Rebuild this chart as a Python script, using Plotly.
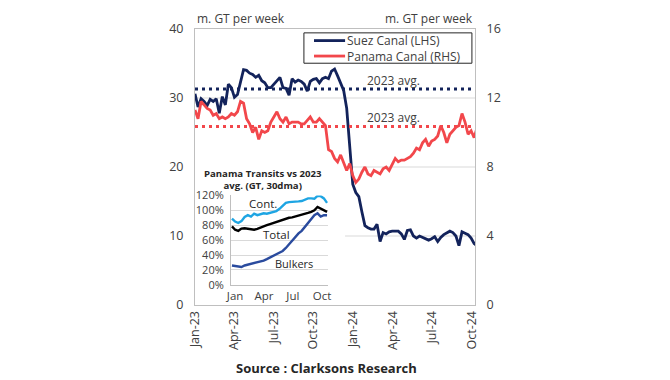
import pandas as pd
import plotly.graph_objects as go

# ---------------- data ----------------
week_start = "2023-01-01"
n_weeks = 94
weeks = pd.date_range(week_start, periods=n_weeks, freq="7D")

suez_lhs = [30.6, 28.7, 29.9, 29.5, 28.9, 29.8, 29.5, 29.9, 27.8, 30.2,
            29.0, 32.0, 31.5, 30.1, 30.5, 32.5, 34.1, 34.0, 33.6, 33.4,
            33.0, 33.3, 32.5, 32.2, 31.5, 31.5, 32.0, 32.6, 33.0, 31.5,
            31.4, 30.4, 32.8, 32.3, 32.6, 32.4, 32.0, 31.0, 32.4, 32.7,
            32.8, 32.2, 32.8, 33.0, 32.8, 33.9, 34.2, 33.2, 32.0, 31.1,
            28.5, 22.5, 17.5, 16.3, 15.7, 13.5, 11.5, 11.2, 11.0, 11.0,
            11.7, 9.2, 10.5, 10.3, 10.6, 10.7, 10.7, 10.7, 10.3, 9.5,
            10.8, 10.9, 10.0, 9.7, 10.0, 9.8, 9.7, 9.4, 9.6, 9.9,
            9.2, 9.8, 10.2, 10.4, 10.7, 10.5, 10.0, 8.6, 10.6, 10.4,
            10.2, 9.7, 8.9, 8.6]

panama_rhs = [11.3, 10.8, 11.8, 11.6, 11.4, 11.3, 11.0, 11.1, 10.8, 10.9,
              10.8, 10.9, 11.1, 11.0, 11.2, 11.8, 11.7, 10.8, 10.5, 10.0,
              10.3, 9.6, 10.1, 10.0, 10.1, 10.6, 10.9, 11.2, 10.8, 10.6,
              10.9, 10.5, 10.6, 10.6, 10.6, 10.5, 10.5, 10.7, 10.9, 10.6,
              10.6, 10.8, 10.6, 10.4, 9.0, 8.9, 8.5, 8.3, 8.7, 8.3,
              7.8, 8.2, 7.5, 7.1, 7.3, 7.7, 8.0, 7.6, 7.5, 7.8,
              7.7, 7.6, 7.9, 8.0, 7.8, 8.2, 8.5, 8.3, 8.4, 8.4,
              8.5, 8.6, 8.8, 9.1, 9.0, 9.4, 9.6, 9.2, 9.5, 9.6,
              9.8, 10.4, 10.0, 9.4, 9.9, 10.1, 10.3, 10.4, 11.1, 10.6,
              9.9, 10.1, 9.7, 10.3]

suez_avg_2023 = 31.3
panama_avg_2023 = 10.35

left_ticks = [0, 10, 20, 30, 40]
right_ticks = [0, 4, 8, 12, 16]

# inset: Panama transits vs 2023 avg (GT, 30dma), 2024
inset_dates = pd.date_range("2023-12-22", periods=31, freq="10D")
cont_pct = [89, 85, 83, 85.5, 91, 93.5, 91.5, 95.5, 93.5, 95, 96, 95.5, 97, 98,
            99, 102, 106, 110, 111, 111, 112, 112, 112.5, 114.5, 116, 116,
            115.5, 119.5, 119, 116, 110]
total_pct = [78.5, 74, 72.5, 75.5, 76, 75, 74, 74, 75, 77, 78.5, 80, 81.5, 83,
             84.5, 86, 87, 89, 90, 90.5, 91.5, 92.5, 94, 95.5, 96.5, 98, 100,
             104.5, 102.5, 100.5, 98]
bulkers_pct = [26, 25.5, 24.5, 24, 26, 27, 28, 29, 30, 31, 32.5, 34.5, 36.5, 39,
               40.5, 43, 45.5, 49.5, 54.5, 58.5, 64, 69, 72.5, 78, 83.5, 89.5,
               93.5, 96, 91.5, 93.5, 93.5]
inset_tickvals = ["2024-01-01", "2024-04-01", "2024-07-01", "2024-10-01"]
inset_ticktext = ["Jan", "Apr", "Jul", "Oct"]

# ---------------- style ----------------
FONT = "Open Sans"
NAVY = "#13235B"
RED = "#F2474B"
GREY_TXT = "#404040"
CONT_C = "#1EA5E3"
TOTAL_C = "#000000"
BULK_C = "#2A4B9E"
FS = 12

fig = go.Figure()

fig.add_trace(go.Scatter(x=weeks, y=suez_lhs, mode="lines", name="Suez Canal (LHS)",
                         line=dict(color=NAVY, width=2.8), yaxis="y"))
fig.add_trace(go.Scatter(x=weeks, y=panama_rhs, mode="lines", name="Panama Canal (RHS)",
                         line=dict(color=RED, width=2.8), yaxis="y2"))
fig.add_trace(go.Scatter(x=[weeks[0], weeks[-1]], y=[suez_avg_2023] * 2, mode="lines",
                         hoverinfo="skip",
                         line=dict(color=NAVY, width=3, dash="3px,4px"), yaxis="y"))
fig.add_trace(go.Scatter(x=[weeks[0], weeks[-1]], y=[panama_avg_2023] * 2, mode="lines",
                         hoverinfo="skip",
                         line=dict(color=RED, width=3, dash="3px,4px"), yaxis="y2"))

# inset traces
fig.add_trace(go.Scatter(x=inset_dates, y=cont_pct, mode="lines",
                         line=dict(color=CONT_C, width=2.4), xaxis="x3", yaxis="y3"))
fig.add_trace(go.Scatter(x=inset_dates, y=total_pct, mode="lines",
                         line=dict(color=TOTAL_C, width=2.4), xaxis="x3", yaxis="y3"))
fig.add_trace(go.Scatter(x=inset_dates, y=bulkers_pct, mode="lines",
                         line=dict(color=BULK_C, width=2.4), xaxis="x3", yaxis="y3"))

shapes = []
for v in left_ticks[1:-1]:
    shapes.append(dict(type="line", xref="paper", yref="y", x0=0, x1=1, y0=v, y1=v,
                       line=dict(color="#D9D9D9", width=1), layer="below"))
# white background panel of the inset
shapes.append(dict(type="rect", xref="paper", yref="paper", x0=0, x1=0.536, y0=0, y1=0.53,
                   fillcolor="white", line=dict(width=0), layer="below"))
# legend box and line keys
shapes.append(dict(type="rect", xref="paper", yref="paper", x0=0.389, x1=0.989,
                   y0=0.876, y1=0.986, fillcolor="white",
                   line=dict(color="#262626", width=1), layer="above"))
shapes.append(dict(type="line", xref="paper", yref="paper", x0=0.425, x1=0.536,
                   y0=0.958, y1=0.958, line=dict(color=NAVY, width=2.8), layer="above"))
shapes.append(dict(type="line", xref="paper", yref="paper", x0=0.425, x1=0.536,
                   y0=0.902, y1=0.902, line=dict(color=RED, width=2.8), layer="above"))

annotations = [
    dict(text="m. GT per week", xref="paper", yref="paper", x=0, y=1.0, xanchor="left",
         yanchor="bottom", showarrow=False, font=dict(size=FS, color=GREY_TXT)),
    dict(text="m. GT per week", xref="paper", yref="paper", x=1, y=1.0, xanchor="right",
         yanchor="bottom", showarrow=False, font=dict(size=FS, color=GREY_TXT)),
    dict(text="Suez Canal (LHS)", xref="paper", yref="paper", x=0.536, y=0.958,
         xanchor="left", yanchor="middle", showarrow=False,
         font=dict(size=FS, color=GREY_TXT)),
    dict(text="Panama Canal (RHS)", xref="paper", yref="paper", x=0.536, y=0.902,
         xanchor="left", yanchor="middle", showarrow=False,
         font=dict(size=FS, color=GREY_TXT)),
    dict(text="2023 avg.", xref="x", yref="y", x="2024-04-02", y=32.6, showarrow=False,
         xanchor="center", yanchor="middle", font=dict(size=FS, color=GREY_TXT)),
    dict(text="2023 avg.", xref="x", yref="y2", x="2024-04-02", y=10.85, showarrow=False,
         xanchor="center", yanchor="middle", font=dict(size=FS, color=GREY_TXT)),
    dict(text="<b>Panama Transits vs 2023<br>avg. (GT, 30dma)</b>", xref="paper",
         yref="paper", x=0.243, y=0.454, xanchor="center", yanchor="middle",
         showarrow=False, font=dict(size=9.6, color="#262626")),
    dict(text="Cont.", xref="x3", yref="y3", x="2024-03-28", y=109, showarrow=False,
         xanchor="center", yanchor="middle", font=dict(size=11.5, color="#262626")),
    dict(text="Total", xref="x3", yref="y3", x="2024-05-09", y=67.5, showarrow=False,
         xanchor="center", yanchor="middle", font=dict(size=11.5, color="#262626")),
    dict(text="Bulkers", xref="x3", yref="y3", x="2024-07-06", y=28, showarrow=False,
         xanchor="center", yanchor="middle", font=dict(size=11, color="#262626")),
    dict(text="<b>Source : Clarksons Research</b>", xref="paper", yref="paper",
         x=0.471, y=-0.23, xanchor="center", yanchor="middle", showarrow=False,
         font=dict(size=13, color="#262626")),
]

# the page body adds an 8px offset, so the figure is sized to fit the 670x380 window
fig.update_layout(
    width=662, height=372,
    margin=dict(l=187, r=195, t=14, b=75),
    paper_bgcolor="white", plot_bgcolor="white",
    font=dict(family=FONT, color=GREY_TXT),
    showlegend=False,
    xaxis=dict(type="date", range=["2023-01-01", "2024-10-08"], tickformat="%b-%y",
               dtick="M3", tick0="2023-01-01", tickangle=-90, showgrid=False,
               showline=True, linecolor="#BFBFBF", linewidth=1, mirror=True, ticks="",
               tickfont=dict(size=12.5, color=GREY_TXT), zeroline=False),
    yaxis=dict(range=[0, 40], tickvals=left_ticks, showgrid=False, zeroline=False,
               showline=True, linecolor="#BFBFBF", linewidth=1, ticks="",
               tickfont=dict(size=12.5, color=GREY_TXT), ticklabelstandoff=8),
    yaxis2=dict(range=[0, 16], tickvals=right_ticks, overlaying="y", side="right",
                showgrid=False, zeroline=False, showline=True, linecolor="#BFBFBF",
                linewidth=1, ticks="", tickfont=dict(size=12.5, color=GREY_TXT),
                ticklabelstandoff=8),
    xaxis3=dict(domain=[0.1286, 0.475], anchor="y3", type="date",
                range=["2023-12-19", "2024-10-20"], tickvals=inset_tickvals,
                ticktext=inset_ticktext, showgrid=False, showline=True, linecolor="#BFBFBF",
                ticks="", tickfont=dict(size=11.5, color="#404040"), zeroline=False),
    yaxis3=dict(domain=[0.073, 0.397], anchor="x3", range=[0, 120], dtick=20,
                ticksuffix="%", showgrid=True, gridcolor="#D9D9D9", showline=True,
                linecolor="#BFBFBF", ticks="", tickfont=dict(size=11, color="#404040"),
                zeroline=False, ticklabelstandoff=4),
    shapes=shapes,
    annotations=annotations,
)

fig.write_html("out.html")
